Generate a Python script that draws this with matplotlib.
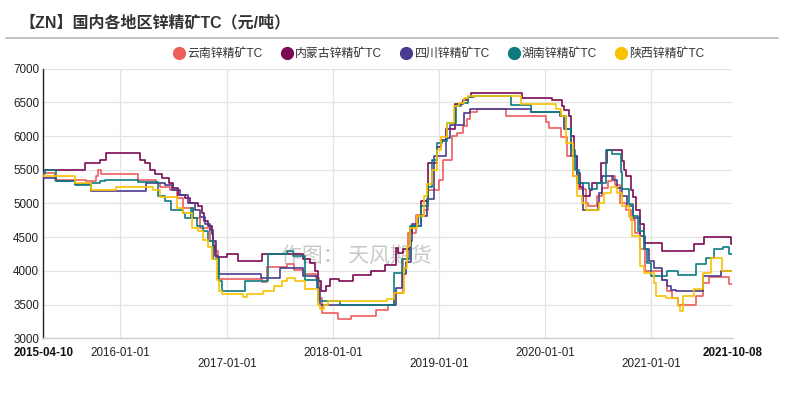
import matplotlib
matplotlib.use("Agg")
import matplotlib.pyplot as plt
import pandas as pd
from matplotlib.lines import Line2D

plt.rcParams['font.family'] = ['Liberation Sans', 'Noto Sans CJK SC', 'DejaVu Sans']

title = "【ZN】国内各地区锌精矿TC（元/吨）"
watermark = "作图： 天风期货"
series_names = ["云南锌精矿TC", "内蒙古锌精矿TC", "四川锌精矿TC", "湖南锌精矿TC", "陕西锌精矿TC"]
series_colors = ["#ef5d5d", "#7a0a52", "#4a3b8e", "#0d7b7e", "#f7c200"]

x_start = "2015-04-10"
x_end = "2021-10-08"
row1_ticks = ["2015-04-10", "2016-01-01", "2018-01-01", "2020-01-01", "2021-10-08"]
row2_ticks = ["2017-01-01", "2019-01-01", "2021-01-01"]
year_lines = ["2016-01-01", "2017-01-01", "2018-01-01", "2019-01-01", "2020-01-01", "2021-01-01"]
y_ticks = [3000, 3500, 4000, 4500, 5000, 5500, 6000, 6500, 7000]

# 云南
yn_dates = ["2015-04-10", "2015-04-16", "2015-05-19", "2015-09-04", "2015-10-09", "2015-10-16", "2015-10-26",
            "2016-03-01", "2016-05-02", "2016-05-16", "2016-06-20", "2016-07-13", "2016-08-04", "2016-09-07",
            "2016-10-01", "2016-11-05", "2016-11-22", "2016-12-02", "2017-05-03", "2017-05-20", "2017-07-27",
            "2017-08-19", "2017-09-23", "2017-11-05", "2017-11-15", "2017-11-26", "2018-01-20", "2018-03-03",
            "2018-05-28", "2018-07-09", "2018-07-29", "2018-08-29", "2018-09-16", "2018-10-13", "2018-11-10",
            "2018-11-24", "2018-12-31", "2019-01-17", "2019-02-14", "2019-03-03", "2019-03-24", "2019-04-07",
            "2019-04-20", "2019-05-11", "2019-08-19", "2020-01-04", "2020-01-14", "2020-02-24", "2020-03-16",
            "2020-04-06", "2020-04-26", "2020-05-20", "2020-05-30", "2020-06-30", "2020-07-16", "2020-08-07",
            "2020-08-20", "2020-08-31", "2020-09-17", "2020-10-05", "2020-10-22", "2020-11-08", "2020-11-25",
            "2020-12-12", "2021-02-09", "2021-02-26", "2021-03-15", "2021-04-02", "2021-06-04", "2021-06-27",
            "2021-07-19", "2021-09-26", "2021-10-08"]
yn_vals = [5430, 5450, 5350, 5330, 5400, 5500, 5430,
           5350, 5300, 5250, 5200, 5080, 4930, 4790,
           4640, 4440, 4290, 3880, 3830, 4060, 4100,
           4020, 3950, 3900, 3600, 3380, 3280, 3330,
           3420, 3490, 3670, 4170, 4560, 4830, 4900,
           5200, 5350, 5650, 6000, 6050, 6150, 6250,
           6350, 6400, 6300, 6210, 6115, 5990, 5700,
           5400, 5210, 5010, 4960, 5110, 5230, 5330,
           5410, 5280, 5010, 4910, 4760, 4560, 4320,
           4000, 3870, 3700, 3600, 3500, 3620, 3820,
           3910, 3800, 3800]

# 内蒙古
nmg_dates = ["2015-04-10", "2015-09-01", "2015-10-23", "2015-11-12", "2016-03-08", "2016-03-25", "2016-04-12",
             "2016-04-29", "2016-05-23", "2016-06-16", "2016-06-30", "2016-07-17", "2016-08-11", "2016-08-28",
             "2016-09-24", "2016-10-06", "2016-10-13", "2016-10-29", "2016-11-11", "2016-11-16", "2016-11-22",
             "2016-12-02", "2017-01-01", "2017-02-08", "2017-05-02", "2017-09-22", "2017-10-16", "2017-11-02",
             "2017-11-12", "2017-11-23", "2017-12-07", "2017-12-23", "2018-01-24", "2018-03-13", "2018-05-11",
             "2018-07-01", "2018-08-05", "2018-08-12", "2018-08-29", "2018-09-25", "2018-10-02", "2018-11-02",
             "2018-11-26", "2018-12-27", "2019-01-10", "2019-01-24", "2019-02-27", "2019-03-26", "2019-04-13",
             "2019-04-22", "2019-10-15", "2020-01-27", "2020-03-01", "2020-03-06", "2020-03-23", "2020-03-30",
             "2020-04-09", "2020-04-19", "2020-04-30", "2020-05-13", "2020-06-06", "2020-06-13", "2020-07-11",
             "2020-08-03", "2020-09-23", "2020-09-28", "2020-10-08", "2020-10-22", "2020-10-29", "2020-11-11",
             "2020-11-25", "2020-12-06", "2021-02-09", "2021-05-28", "2021-07-02", "2021-10-03", "2021-10-08"]
nmg_vals = [5500, 5600, 5650, 5750, 5650, 5600, 5500,
            5430, 5380, 5300, 5230, 5130, 5080, 5000,
            4960, 4860, 4740, 4660, 4540, 4370, 4220,
            4200, 4250, 4150, 4250, 4170, 4120, 4000,
            3850, 3700, 3780, 3880, 3850, 3940, 4000,
            4090, 4340, 4270, 4320, 4590, 4660, 5030,
            5600, 5840, 5940, 6100, 6480, 6530, 6580,
            6640, 6560, 6530, 6440, 6390, 6300, 6000,
            5700, 5450, 5250, 5110, 5200, 5300, 5600,
            5800, 5630, 5500, 5400, 5200, 5100, 4910,
            4700, 4420, 4300, 4400, 4500, 4400, 4400]

# 四川
sc_dates = ["2015-04-10", "2015-05-24", "2015-07-28", "2015-09-22", "2016-03-30", "2016-06-03", "2016-06-27",
            "2016-07-24", "2016-08-21", "2016-09-14", "2016-10-01", "2016-10-18", "2016-11-05", "2016-11-15",
            "2016-11-25", "2016-12-06", "2017-04-30", "2017-07-04", "2017-09-22", "2017-11-09", "2017-11-19",
            "2018-08-05", "2018-08-28", "2018-09-09", "2018-09-26", "2018-09-29", "2018-10-23", "2018-11-20",
            "2018-12-14", "2019-01-24", "2019-02-10", "2019-03-27", "2019-04-20", "2019-11-13", "2020-02-21",
            "2020-03-06", "2020-03-30", "2020-04-19", "2020-05-13", "2020-07-01", "2020-07-07", "2020-07-16",
            "2020-08-24", "2020-09-04", "2020-09-21", "2020-10-11", "2020-11-01", "2020-11-25", "2020-12-12",
            "2020-12-23", "2021-01-10", "2021-02-09", "2021-02-26", "2021-03-10", "2021-03-27", "2021-06-27",
            "2021-08-29", "2021-10-08"]
sc_vals = [5380, 5330, 5290, 5190, 5310, 5280, 5200,
           5130, 5000, 4900, 4800, 4700, 4600, 4450,
           4200, 3950, 3900, 4040, 3920, 3750, 3500,
           3750, 3950, 4125, 4440, 4690, 4810, 5060,
           5700, 5970, 6165, 6340, 6400, 6350, 6300,
           6100, 5700, 5300, 4910, 5000, 5150, 5400,
           5350, 5230, 5110, 4960, 4790, 4515, 4320,
           4145, 4045, 3870, 3770, 3720, 3700, 3920,
           4000, 4000]

# 湖南
hn_dates = ["2015-04-10", "2015-04-16", "2015-05-24", "2015-07-28", "2015-09-22", "2015-10-23", "2015-11-09",
            "2016-03-01", "2016-05-10", "2016-06-03", "2016-06-24", "2016-08-04", "2016-08-11", "2016-08-30",
            "2016-09-07", "2016-09-20", "2016-10-12", "2016-10-29", "2016-11-15", "2016-12-06", "2016-12-15",
            "2017-03-06", "2017-05-24", "2017-07-27", "2017-08-18", "2017-09-28", "2017-11-12", "2018-01-27",
            "2018-07-29", "2018-08-28", "2018-09-25", "2018-10-30", "2018-11-23", "2018-12-10", "2018-12-26",
            "2019-01-13", "2019-01-30", "2019-02-28", "2019-03-20", "2019-04-13", "2019-05-02", "2019-09-05",
            "2019-11-13", "2020-02-24", "2020-03-13", "2020-03-30", "2020-04-13", "2020-04-26", "2020-05-31",
            "2020-06-30", "2020-07-28", "2020-08-20", "2020-09-18", "2020-09-23", "2020-10-15", "2020-11-01",
            "2020-11-18", "2020-12-07", "2020-12-19", "2021-01-01", "2021-02-26", "2021-04-02", "2021-06-04",
            "2021-07-08", "2021-08-06", "2021-09-04", "2021-09-26", "2021-10-08"]
hn_vals = [5450, 5500, 5330, 5280, 5300, 5330, 5350,
           5320, 5110, 5035, 4910, 4860, 4790, 4930,
           4790, 4660, 4590, 4440, 4170, 3850, 3700,
           3850, 4250, 4290, 4220, 3870, 3550, 3500,
           3975, 4170, 4660, 4960, 5250, 5650, 5890,
           5920, 6190, 6440, 6485, 6580, 6600, 6460,
           6350, 6300, 6100, 5800, 5500, 5310, 5210,
           5310, 5800, 5730, 5470, 5210, 4985, 4810,
           4590, 4320, 4120, 3920, 3995, 3945, 4095,
           4190, 4320, 4355, 4245, 4245]

# 陕西
sx_dates = ["2015-04-10", "2015-07-28", "2015-09-22", "2015-12-17", "2016-04-22", "2016-05-16", "2016-07-13",
            "2016-08-04", "2016-09-03", "2016-09-25", "2016-10-12", "2016-10-29", "2016-11-11", "2016-11-28",
            "2016-12-06", "2016-12-16", "2017-02-27", "2017-03-12", "2017-05-06", "2017-06-13", "2017-07-10",
            "2017-07-27", "2017-08-24", "2017-09-28", "2017-11-12", "2017-11-19", "2017-12-03", "2017-12-16",
            "2018-07-08", "2018-07-29", "2018-09-02", "2018-09-12", "2018-09-25", "2018-10-18", "2018-11-10",
            "2018-11-22", "2018-12-07", "2018-12-26", "2019-01-07", "2019-01-30", "2019-02-22", "2019-03-10",
            "2019-03-28", "2019-04-13", "2019-05-02", "2019-10-10", "2020-02-10", "2020-02-24", "2020-03-13",
            "2020-04-06", "2020-04-19", "2020-05-09", "2020-05-20", "2020-07-04", "2020-07-21", "2020-08-14",
            "2020-09-06", "2020-09-23", "2020-10-16", "2020-10-28", "2020-11-25", "2020-12-07", "2021-01-10",
            "2021-01-17", "2021-02-20", "2021-04-02", "2021-04-10", "2021-04-20", "2021-05-29", "2021-06-27",
            "2021-07-26", "2021-09-01", "2021-10-08"]
sx_vals = [5400, 5300, 5200, 5250, 5200, 5100, 4930,
           4860, 4640, 4590, 4465, 4350, 4170, 3870,
           3700, 3650, 3610, 3650, 3700, 3775, 3850,
           3900, 3850, 3725, 3500, 3430, 3490, 3555,
           3590, 3675, 4045, 4365, 4640, 4810, 5105,
           5290, 5500, 5800, 5990, 6190, 6440, 6485,
           6560, 6590, 6600, 6480, 6400, 6300, 5900,
           5400, 5105, 5006, 4908, 5000, 5155, 5250,
           5155, 4957, 4800, 4513, 4070, 3970, 3820,
           3620, 3600, 3480, 3400, 3630, 3725, 3970,
           4190, 4000, 4000]

all_dates = [yn_dates, nmg_dates, sc_dates, hn_dates, sx_dates]
all_vals = [yn_vals, nmg_vals, sc_vals, hn_vals, sx_vals]

W, H = 788, 396
fig = plt.figure(figsize=(W / 100, H / 100), dpi=100)
fig.patch.set_facecolor("white")

ax_l, ax_r, ax_t, ax_b = 43.2, 732.5, 68.6, 338.3
ax = fig.add_axes([ax_l / W, 1 - ax_b / H, (ax_r - ax_l) / W, (ax_b - ax_t) / H])

for d, v, c, n in zip(all_dates, all_vals, series_colors, series_names):
    ax.plot(pd.to_datetime(d), v, color=c, lw=1.2, drawstyle="steps-post", label=n, zorder=3)

ax.set_xlim(pd.Timestamp(x_start), pd.Timestamp(x_end))
ax.set_ylim(y_ticks[0], y_ticks[-1])
ax.set_yticks(y_ticks)
ax.set_yticklabels([str(t) for t in y_ticks])
ax.tick_params(axis="y", length=0, pad=3, labelsize=8.4, labelcolor="#222222")
ax.grid(axis="y", color="#e3e3e3", lw=0.9, zorder=0)
for yl in year_lines:
    ax.axvline(pd.Timestamp(yl), color="#e3e3e3", lw=0.9, zorder=0)

ax.set_xticks(pd.to_datetime(row1_ticks))
ax.set_xticklabels(row1_ticks)
ax.set_xticks(pd.to_datetime(row2_ticks), minor=True)
ax.set_xticklabels(row2_ticks, minor=True)
ax.tick_params(axis="x", which="major", length=0, pad=6, labelsize=8.4, labelcolor="#222222")
ax.tick_params(axis="x", which="minor", length=0, pad=14.5, labelsize=8.4, labelcolor="#222222")
for lbl in ax.get_xticklabels():
    if lbl.get_text() in (x_start, x_end):
        lbl.set_fontweight("bold")
        lbl.set_color("#111111")

for s in ["top", "right"]:
    ax.spines[s].set_visible(False)
ax.spines["left"].set_color("#222222")
ax.spines["left"].set_linewidth(1.0)
ax.spines["bottom"].set_color("#d0d0d0")
ax.spines["bottom"].set_linewidth(1.0)

ax.text(0.455, 0.305, watermark, transform=ax.transAxes, ha="center", va="center",
        fontsize=15, color="#c9c9c9", zorder=1, family=["Noto Sans CJK SC"])

fig.text(19 / W, 1 - 22.5 / H, title, ha="left", va="center", fontsize=11.5, fontweight="bold",
         color="#333333")
fig.add_artist(Line2D([6 / W, 778 / W], [1 - 38.3 / H] * 2, color="#b8b8b8", lw=1.2))

handles = [Line2D([], [], marker="o", ls="none", markersize=8.5, color=c) for c in series_colors]
fig.legend(handles, series_names, loc="center left", bbox_to_anchor=(174.5 / W, 1 - 54 / H), ncol=5,
           frameon=False, fontsize=8.6, handlelength=0.8, handletextpad=0.3, columnspacing=1.6,
           borderpad=0, borderaxespad=0, labelcolor="#333333")

fig.savefig("out.png", dpi=100, facecolor="white")
